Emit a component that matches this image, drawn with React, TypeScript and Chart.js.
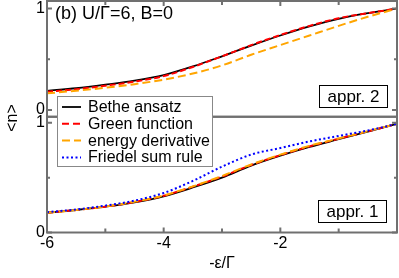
import React, { useEffect, useRef } from 'react';
import { Chart, registerables } from 'chart.js';

Chart.register(...registerables);

// ---- data ----
const xValues = [-6, -5.5, -5, -4.5, -4, -3.5, -3, -2.5, -2, -1.5, -1, -0.5, 0];

// panel "appr. 2" (top)
const betheTop = [0.19, 0.215, 0.25, 0.29, 0.345, 0.43, 0.53, 0.635, 0.735, 0.825, 0.9, 0.955, 1.0];
const greenTop = [0.18, 0.205, 0.24, 0.28, 0.335, 0.425, 0.53, 0.64, 0.74, 0.83, 0.905, 0.955, 1.0];
const energyTop = [0.165, 0.19, 0.22, 0.255, 0.3, 0.36, 0.44, 0.545, 0.64, 0.735, 0.83, 0.92, 1.0];

// panel "appr. 1" (bottom)
const betheBot = [0.18, 0.205, 0.235, 0.275, 0.33, 0.41, 0.5, 0.61, 0.7, 0.78, 0.85, 0.92, 0.99];
const greenBot = [0.18, 0.205, 0.235, 0.278, 0.335, 0.418, 0.51, 0.615, 0.705, 0.785, 0.855, 0.922, 0.99];
const energyBot = [0.18, 0.205, 0.237, 0.28, 0.338, 0.42, 0.515, 0.62, 0.71, 0.79, 0.857, 0.923, 0.99];
const friedelBot = [0.185, 0.21, 0.245, 0.29, 0.36, 0.47, 0.6, 0.71, 0.77, 0.83, 0.88, 0.93, 0.99];

const seriesLabels = ['Bethe ansatz', 'Green function', 'energy derivative', 'Friedel sum rule'];
const xTickLabels = [-6, -4, -2];
const xMajorTicks = [-6, -4, -2, 0];
const xMinorTicks = [-5, -3, -1];
const yTickValues = [0, 1];
const yMinorTicks = [0.5];
const titleText = '(b) U/\u0393=6, B=0';
const xTitle = '-\u03b5/\u0393';
const yTitle = '<n>';
const panelLabels = ['appr. 2', 'appr. 1'];

const FONT = "'Liberation Sans', Arial, Helvetica, sans-serif";
const FRAME = '#707070';

const colors = ['#000000', '#ff0000', '#ffa500', '#0000ff'];
const dashes: number[][] = [[], [6, 3], [8, 4], [2, 2.5]];
const widths = [1.8, 2, 2, 2];

const pts = (ys: number[]) => xValues.map((x, i) => ({ x, y: ys[i] }));

function ds(label: string, ys: number[], axis: string, k: number) {
  return {
    label,
    data: pts(ys),
    yAxisID: axis,
    xAxisID: 'x',
    borderColor: colors[k],
    backgroundColor: colors[k],
    borderWidth: widths[k],
    borderDash: dashes[k],
    pointRadius: 0,
    fill: false,
    cubicInterpolationMode: 'monotone' as const,
    order: 4 - k,
  };
}

const zeroPad = (s: any) => {
  s.paddingTop = 0;
  s.paddingBottom = 0;
  s.paddingLeft = 0;
  s.paddingRight = 0;
};

export default function App() {
  const ref = useRef<HTMLCanvasElement>(null);

  useEffect(() => {
    const canvas = ref.current!;

    const panelPlugin = {
      id: 'panels',
      afterDraw(chart: any) {
        const ctx = chart.ctx as CanvasRenderingContext2D;
        const xs = chart.scales.x;
        const left = chart.chartArea.left;
        const right = chart.chartArea.right;
        const panels = [chart.scales.yTop, chart.scales.yBot];
        ctx.save();
        ctx.strokeStyle = FRAME;
        ctx.lineWidth = 2;
        panels.forEach((s: any, pi: number) => {
          ctx.strokeRect(left, s.top, right - left, s.bottom - s.top);
          ctx.beginPath();
          yTickValues.forEach((v) => {
            const p = s.getPixelForValue(v);
            ctx.moveTo(left, p); ctx.lineTo(left + 5, p);
            ctx.moveTo(right, p); ctx.lineTo(right - 5, p);
          });
          yMinorTicks.forEach((v) => {
            const p = s.getPixelForValue(v);
            ctx.moveTo(left, p); ctx.lineTo(left + 3, p);
            ctx.moveTo(right, p); ctx.lineTo(right - 3, p);
          });
          const edge = pi === 0 ? s.top : s.bottom;
          const dir = pi === 0 ? 1 : -1;
          xMajorTicks.forEach((v) => {
            const p = xs.getPixelForValue(v);
            ctx.moveTo(p, edge); ctx.lineTo(p, edge + dir * 5);
          });
          xMinorTicks.forEach((v) => {
            const p = xs.getPixelForValue(v);
            ctx.moveTo(p, edge); ctx.lineTo(p, edge + dir * 4);
          });
          ctx.stroke();
        });

        // title
        ctx.fillStyle = '#000';
        ctx.font = `18px ${FONT}`;
        ctx.textAlign = 'left';
        ctx.textBaseline = 'middle';
        ctx.fillText(titleText, 55, 14);

        // panel labels
        ctx.font = `17px ${FONT}`;
        const boxes = [
          { x: 319.5, y: 85.5, w: 68, h: 22 },
          { x: 318.5, y: 200.5, w: 68, h: 22 },
        ];
        boxes.forEach((b, i) => {
          ctx.fillStyle = '#fff';
          ctx.fillRect(b.x, b.y, b.w, b.h);
          ctx.strokeStyle = '#000';
          ctx.lineWidth = 1;
          ctx.strokeRect(b.x, b.y, b.w, b.h);
          ctx.fillStyle = '#000';
          ctx.textAlign = 'center';
          ctx.fillText(panelLabels[i], b.x + b.w / 2, b.y + b.h / 2 + 1);
        });

        // legend
        const lx = 57.5, ly = 96.5, lw = 155, lh = 70;
        ctx.fillStyle = '#fff';
        ctx.fillRect(lx, ly, lw, lh);
        ctx.strokeStyle = '#888';
        ctx.lineWidth = 1;
        ctx.strokeRect(lx, ly, lw, lh);
        seriesLabels.forEach((lab, i) => {
          const yy = 107 + i * 16.8;
          ctx.strokeStyle = colors[i];
          ctx.lineWidth = widths[i];
          ctx.setLineDash(i === 1 ? [7, 4] : i === 2 ? [8, 4] : dashes[i]);
          ctx.beginPath();
          ctx.moveTo(62, yy);
          ctx.lineTo(81, yy);
          ctx.stroke();
          ctx.setLineDash([]);
          ctx.fillStyle = '#000';
          ctx.textAlign = 'left';
          ctx.textBaseline = 'middle';
          ctx.font = `16px ${FONT}`;
          ctx.fillText(lab, 88, yy + 0.5);
        });

        // axis titles
        ctx.fillStyle = '#000';
        ctx.font = `16px ${FONT}`;
        ctx.textAlign = 'center';
        ctx.textBaseline = 'middle';
        ctx.fillText(xTitle, (left + right) / 2, 264);
        ctx.save();
        ctx.translate(13, 118);
        ctx.rotate(-Math.PI / 2);
        ctx.fillText(yTitle, 0, 0);
        ctx.restore();
        ctx.restore();
      },
    };

    const yCommon = (min: number, max: number, weight: number) => ({
      type: 'linear' as const,
      position: 'left' as const,
      stack: 'panels',
      stackWeight: 1,
      weight,
      min,
      max,
      grid: { display: false, drawTicks: false, tickLength: 0 },
      border: { display: false },
      ticks: { font: { size: 16, family: FONT }, color: '#000', padding: 2 },
      afterBuildTicks: (s: any) => {
        s.ticks = yTickValues.map((v) => ({ value: v }));
      },
      afterFit: (s: any) => {
        s.width = 47;
        zeroPad(s);
      },
    });

    const chart = new Chart(canvas, {
      type: 'line',
      data: {
        datasets: [
          ds(seriesLabels[0], betheTop, 'yTop', 0),
          ds(seriesLabels[1], greenTop, 'yTop', 1),
          ds(seriesLabels[2], energyTop, 'yTop', 2),
          ds(seriesLabels[0], betheBot, 'yBot', 0),
          ds(seriesLabels[1], greenBot, 'yBot', 1),
          ds(seriesLabels[2], energyBot, 'yBot', 2),
          ds(seriesLabels[3], friedelBot, 'yBot', 3),
        ],
      },
      options: {
        responsive: false,
        animation: false,
        devicePixelRatio: 1,
        layout: { padding: { top: 1, right: 2, left: 0, bottom: 0 } },
        plugins: { legend: { display: false }, tooltip: { enabled: false }, title: { display: false } },
        scales: {
          x: {
            type: 'linear',
            position: 'bottom',
            min: -6,
            max: 0,
            grid: { display: false, drawTicks: false, tickLength: 0 },
            border: { display: false },
            ticks: { font: { size: 16, family: FONT }, color: '#000', padding: 1 },
            afterBuildTicks: (s: any) => {
              s.ticks = xTickLabels.map((v) => ({ value: v }));
            },
            afterFit: (s: any) => {
              s.height = 45.5;
              zeroPad(s);
            },
          },
          yTop: yCommon(-0.066, 1.075, 2),
          yBot: yCommon(0, 1.055, 1),
        },
      } as any,
      plugins: [panelPlugin],
    });
    return () => chart.destroy();
  }, []);

  return (
    <div style={{ position: 'fixed', left: 0, top: 0, width: 399, height: 278, background: '#fff' }}>
      <canvas ref={ref} width={399} height={278} style={{ display: 'block', width: 399, height: 278 }} />
    </div>
  );
}
